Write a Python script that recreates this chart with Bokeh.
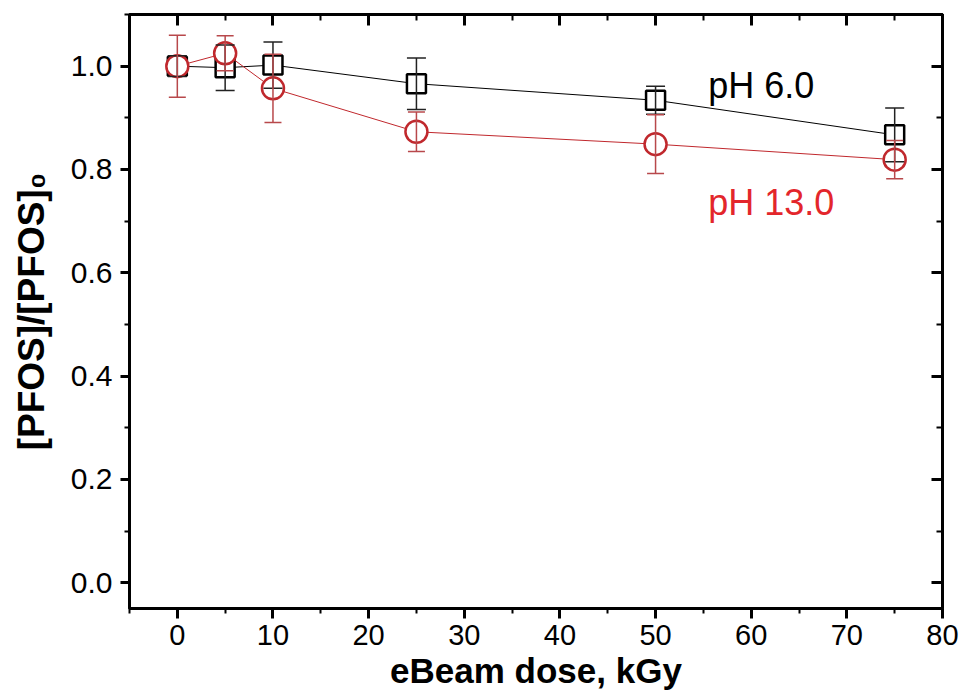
from bokeh.plotting import figure
from bokeh.models import (Range1d, LinearAxis, SingleIntervalTicker, Whisker,
                          ColumnDataSource, Label, TeeHead, NumeralTickFormatter)
from bokeh.embed import file_html
from bokeh.resources import INLINE

# ---- data ----
dose = [0, 5, 10, 25, 50, 75]
ph6 = [1.0, 0.997, 1.002, 0.966, 0.934, 0.867]
ph6_err = [0.02, 0.044, 0.045, 0.05, 0.027, 0.052]
ph13 = [1.0, 1.025, 0.957, 0.873, 0.849, 0.819]
ph13_err = [0.06, 0.034, 0.066, 0.038, 0.057, 0.037]
series_labels = ["pH 6.0", "pH 13.0"]
x_title = "eBeam dose, kGy"
y_title = "[PFOS]/[PFOS]\u2080"

FONT = "Liberation Sans"
RED = "#c0282d"
RED_TXT = "#e3262b"

src6 = ColumnDataSource(dict(x=dose, y=ph6,
                             lo=[v - e for v, e in zip(ph6, ph6_err)],
                             hi=[v + e for v, e in zip(ph6, ph6_err)]))
src13 = ColumnDataSource(dict(x=dose, y=ph13,
                              lo=[v - e for v, e in zip(ph13, ph13_err)],
                              hi=[v + e for v, e in zip(ph13, ph13_err)]))

p = figure(frame_width=813, frame_height=594,
           x_range=Range1d(-5, 80), y_range=Range1d(-0.05, 1.1),
           output_backend="svg", toolbar_location=None,
           min_border_left=129, min_border_right=21,
           min_border_top=14, min_border_bottom=90)
p.grid.visible = False
p.outline_line_color = "black"
p.outline_line_width = 3
p.background_fill_color = "white"

xt = SingleIntervalTicker(interval=10, num_minor_ticks=2)
yt = SingleIntervalTicker(interval=0.2, num_minor_ticks=2)

xa = p.xaxis[0]
xa.ticker = xt
xa.axis_line_width = 3
xa.major_tick_line_width = 3
xa.minor_tick_line_width = 2
xa.major_tick_in = 0
xa.major_tick_out = 10
xa.minor_tick_in = 0
xa.minor_tick_out = 5
xa.major_label_text_font = FONT
xa.major_label_text_font_size = "29px"
xa.major_label_text_color = "black"
xa.major_label_standoff = 6
xa.axis_label = x_title
xa.axis_label_text_font = FONT
xa.axis_label_text_font_style = "bold"
xa.axis_label_text_font_size = "35px"
xa.axis_label_text_color = "black"
xa.axis_label_standoff = 3

ya = p.yaxis[0]
ya.ticker = yt
ya.formatter = NumeralTickFormatter(format="0.0")
ya.axis_line_width = 3
ya.major_tick_line_width = 3
ya.minor_tick_line_width = 2
ya.major_tick_in = 0
ya.major_tick_out = 9
ya.minor_tick_in = 0
ya.minor_tick_out = 5
ya.major_label_text_font = FONT
ya.major_label_text_font_size = "30px"
ya.major_label_text_color = "black"
ya.major_label_standoff = 8
ya.axis_label = y_title
ya.axis_label_text_font = FONT
ya.axis_label_text_font_style = "bold"
ya.axis_label_text_font_size = "37px"
ya.axis_label_text_color = "black"
ya.axis_label_standoff = 16

def mirror_axis():
    return LinearAxis(major_label_text_font_size="1px", major_label_text_color=None,
                      axis_line_width=3, major_tick_in=11, major_tick_out=0,
                      minor_tick_in=6, minor_tick_out=0,
                      major_tick_line_width=3, minor_tick_line_width=2,
                      major_label_standoff=0)

top = mirror_axis()
top.ticker = SingleIntervalTicker(interval=10, num_minor_ticks=2)
p.add_layout(top, "above")
right = mirror_axis()
right.ticker = SingleIntervalTicker(interval=0.2, num_minor_ticks=2)
p.add_layout(right, "right")

# pH 6.0 series
p.line("x", "y", source=src6, line_color="black", line_width=1)
p.scatter("x", "y", source=src6, marker="square", size=19,
          line_color="black", line_width=2.5, fill_color="white")
# pH 13.0 series
p.line("x", "y", source=src13, line_color=RED, line_width=1)
p.scatter("x", "y", source=src13, marker="circle", size=22,
          line_color=RED, line_width=2.5, fill_color="white")

w6 = Whisker(source=src6, base="x", upper="hi", lower="lo",
             line_color="#222222", line_width=1.5,
             upper_head=TeeHead(size=19, line_color="#222222", line_width=1.5),
             lower_head=TeeHead(size=19, line_color="#222222", line_width=1.5),
             level="annotation")
w13 = Whisker(source=src13, base="x", upper="hi", lower="lo",
              line_color="#b8484b", line_width=1.5,
              upper_head=TeeHead(size=17, line_color="#b8484b", line_width=1.5),
              lower_head=TeeHead(size=17, line_color="#b8484b", line_width=1.5),
              level="annotation")
p.add_layout(w6)
p.add_layout(w13)

p.add_layout(Label(x=55.5, y=0.963, text=series_labels[0], text_font=FONT,
                   text_font_size="36px", text_color="black",
                   text_baseline="alphabetic"))
p.add_layout(Label(x=55.5, y=0.736, text=series_labels[1], text_font=FONT,
                   text_font_size="36px", text_color=RED_TXT,
                   text_baseline="alphabetic"))

open("out.html", "w").write(file_html(p, INLINE))
